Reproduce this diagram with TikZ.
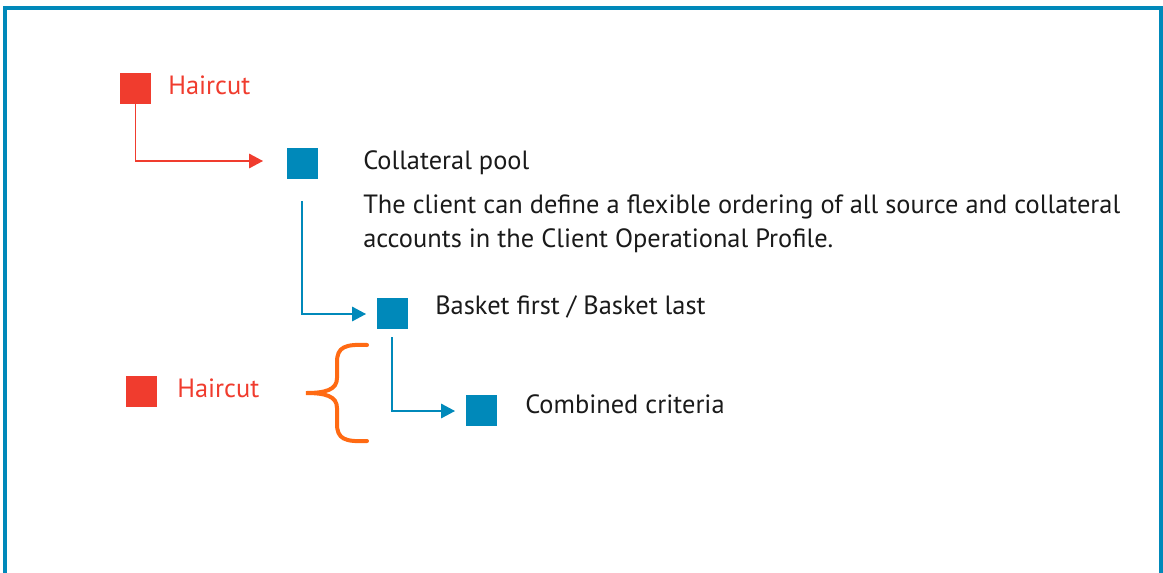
\documentclass[tikz,border=0pt]{standalone}
\usepackage{fontspec}
\setmainfont{PT Sans}
\usetikzlibrary{arrows.meta}
\definecolor{fblue}{HTML}{0089BA}
\definecolor{fred}{HTML}{F03C2E}
\definecolor{forange}{HTML}{FF6A13}
\definecolor{ftext}{HTML}{1A1A1A}
\tikzset{
  sq/.style={minimum size=23.25pt, inner sep=0pt, outer sep=0pt, draw=none},
  redsq/.style={sq, fill=fred},
  bluesq/.style={sq, fill=fblue},
  lbl/.style={anchor=base west, inner sep=0pt, font=\fontsize{19.8}{24}\selectfont, text=ftext},
  redlbl/.style={lbl, text=fred},
  conn/.style={line width=0.9pt, -{Triangle[length=10.5pt,width=11pt]}},
}
\begin{document}
\begin{tikzpicture}[x=0.75pt,y=-0.75pt]
\useasboundingbox (0,0) rectangle (1163,572);
% frame
\draw[fblue, line width=2.4pt] (5,600) -- (5,8) -- (1161,8) -- (1161,600);
% squares
\node[redsq] (h1) at (135.5,88) {};
\node[redsq] (h2) at (141,391) {};
\node[bluesq] (b1) at (302.5,163.5) {};
\node[bluesq] (b2) at (392.5,313.5) {};
\node[bluesq] (b3) at (481.5,410.5) {};
% labels
\node[redlbl] (t1) at (168,94) {Haircut};
\node[redlbl] (t2) at (177,397) {Haircut};
\node[lbl] (t3) at (363,169) {Collateral pool};
\node[lbl] (p1) at (363,213) {The client can define a flexible ordering of all source and collateral};
\node[lbl] (p2) at (363,247) {accounts in the Client Operational Profile.};
\node[lbl] (t4) at (435,314) {Basket first / Basket last};
\node[lbl] (t5) at (525,413) {Combined criteria};
% connectors
\coordinate (a1) at (263,161);
\coordinate (a2) at (366,314);
\coordinate (a3) at (455,411);
\draw[conn, fred] (h1.south) -- (h1.south |- a1) -- (a1);
\coordinate (s2) at (302,201);
\coordinate (s3) at (392,337);
\draw[conn, fblue] (s2) -- (s2 |- a2) -- (a2);
\draw[conn, fblue] (s3) -- (s3 |- a3) -- (a3);
% brace
\coordinate (bt) at (367,345);
\coordinate (bm) at (306,393);
\coordinate (bb) at (367,441);
\draw[forange, line width=3pt, line cap=round]
  (bt) .. controls (345,344) and (337,347) .. (337,362)
  -- (337,378) .. controls (337,390) and (325,393) .. (bm)
  .. controls (325,393) and (337,396) .. (337,408)
  -- (337,424) .. controls (337,439) and (345,442) .. (bb);
\end{tikzpicture}
\end{document}
